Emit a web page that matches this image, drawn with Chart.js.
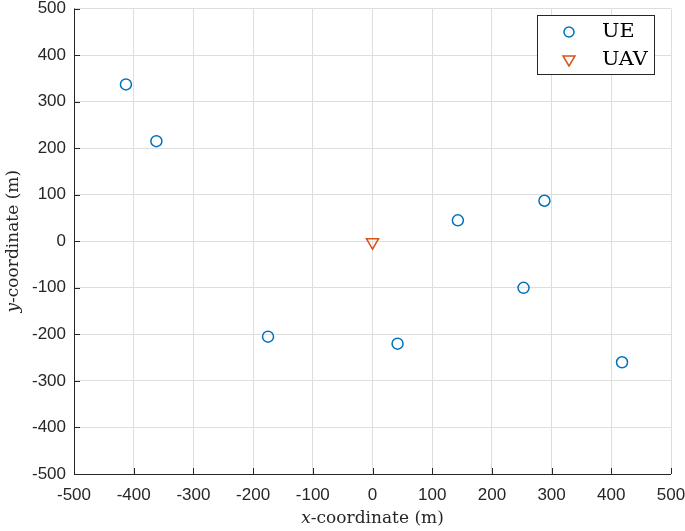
<!DOCTYPE html>
<html><head><meta charset="utf-8">
<script src="https://cdn.jsdelivr.net/npm/chart.js@4"></script>
<style>html,body{margin:0;padding:0;background:#fff}#wrap{width:685px;height:531px}</style>
</head><body><div id="wrap"><canvas id="c" width="685" height="531"></canvas></div>
<script>
const ueX = [-413, -362, -175, 42, 143, 288, 253, 418];
const ueY = [337, 215, -205, -220, 45, 87, -100, -260];
const uavX = [0];
const uavY = [-2];
const tickValues = [-500,-400,-300,-200,-100,0,100,200,300,400,500];
const seriesNames = ['UE', 'UAV'];

const blue = '#0072BD', orange = '#D95319', axisCol = '#262626';

const extras = {
  id: 'extras',
  afterDraw(chart) {
    const ctx = chart.ctx, a = chart.chartArea;
    const xs = chart.scales.x, ys = chart.scales.y;
    ctx.save();
    ctx.strokeStyle = axisCol; ctx.lineWidth = 1;
    tickValues.forEach(v => {
      const px = Math.round(xs.getPixelForValue(v)) + 0.5;
      ctx.beginPath(); ctx.moveTo(px, a.bottom); ctx.lineTo(px, a.bottom - 6); ctx.stroke();
      const py = Math.round(ys.getPixelForValue(v)) + 0.5;
      ctx.beginPath(); ctx.moveTo(a.left, py); ctx.lineTo(a.left + 6, py); ctx.stroke();
    });
    ctx.beginPath();
    ctx.moveTo(Math.round(a.left)+0.5, a.top); ctx.lineTo(Math.round(a.left)+0.5, Math.round(a.bottom)+0.5);
    ctx.lineTo(a.right, Math.round(a.bottom)+0.5); ctx.stroke();
    ctx.fillStyle = axisCol; ctx.textBaseline = 'middle';
    function mixed(x, y, parts, rotate) {
      ctx.save(); ctx.translate(x, y); if (rotate) ctx.rotate(-Math.PI/2);
      let total = 0;
      parts.forEach(p => { ctx.font = p[1]; total += ctx.measureText(p[0]).width; });
      let cx = -total/2;
      ctx.textAlign = 'left';
      parts.forEach(p => { ctx.font = p[1]; ctx.fillText(p[0], cx, 0); cx += ctx.measureText(p[0]).width; });
      ctx.restore();
    }
    const it = 'italic 17px "DejaVu Serif"', rg = '17px "DejaVu Serif"';
    mixed((a.left + a.right)/2, 519, [['x', it], ['-coordinate (m)', rg]], false);
    mixed(14, (a.top + a.bottom)/2, [['y', it], ['-coordinate (m)', rg]], true);
    const lx = 537.5, ly = 15.5, lw = 117, lh = 59;
    ctx.fillStyle = '#fff'; ctx.fillRect(lx, ly, lw, lh);
    ctx.strokeStyle = axisCol; ctx.lineWidth = 1; ctx.strokeRect(lx, ly, lw, lh);
    ctx.lineWidth = 1.5;
    ctx.strokeStyle = blue; ctx.beginPath(); ctx.arc(569, 32, 5, 0, 2*Math.PI); ctx.stroke();
    ctx.strokeStyle = orange; ctx.beginPath();
    ctx.moveTo(563, 56); ctx.lineTo(575, 56); ctx.lineTo(569, 66); ctx.closePath(); ctx.stroke();
    ctx.fillStyle = '#000'; ctx.textAlign = 'left';
    ctx.save(); ctx.translate(602, 0); ctx.scale(1.15, 1);
    ctx.font = '18px "DejaVu Serif"';
    ctx.fillText(seriesNames[0], 0, 32);
    ctx.fillText(seriesNames[1], 0, 60);
    ctx.restore();
    ctx.restore();
  }
};

new Chart(document.getElementById('c'), {
  type: 'scatter',
  data: {
    datasets: [
      { label: seriesNames[0], data: ueX.map((x,i)=>({x, y: ueY[i]})),
        pointStyle: 'circle', pointRadius: 5.5, pointBorderWidth: 1.5,
        borderColor: blue, backgroundColor: 'rgba(0,0,0,0)', pointHoverRadius: 5.5 },
      { label: seriesNames[1], data: uavX.map((x,i)=>({x, y: uavY[i]})),
        pointStyle: 'triangle', rotation: 180, pointRadius: 7, pointBorderWidth: 1.5,
        borderColor: orange, backgroundColor: 'rgba(0,0,0,0)', pointHoverRadius: 7 }
    ]
  },
  options: {
    responsive: false, animation: false, devicePixelRatio: 1,
    layout: { padding: { top: 5, right: 14, left: 0, bottom: 0 } },
    plugins: { legend: { display: false }, tooltip: { enabled: false } },
    scales: {
      x: {
        type: 'linear', min: -500, max: 500,
        afterBuildTicks: s => { s.ticks = tickValues.map(v => ({value: v})); },
        afterFit: s => { s.height = 57; s.paddingLeft = 0; s.paddingRight = 0; },
        grid: { color: '#dedede', drawTicks: false, lineWidth: 1 },
        border: { display: false },
        ticks: { padding: 11, color: axisCol, font: { family: '"Liberation Sans"', size: 17 }, maxRotation: 0,
                 callback: v => String(v) }
      },
      y: {
        type: 'linear', min: -500, max: 500,
        afterBuildTicks: s => { s.ticks = tickValues.map(v => ({value: v})); },
        afterFit: s => { s.width = 74; s.paddingTop = 0; s.paddingBottom = 0; },
        grid: { color: '#dedede', drawTicks: false, lineWidth: 1 },
        border: { display: false },
        ticks: { padding: 8, color: axisCol, font: { family: '"Liberation Sans"', size: 17 },
                 callback: v => String(v) }
      }
    }
  },
  plugins: [extras]
});
</script></body></html>
